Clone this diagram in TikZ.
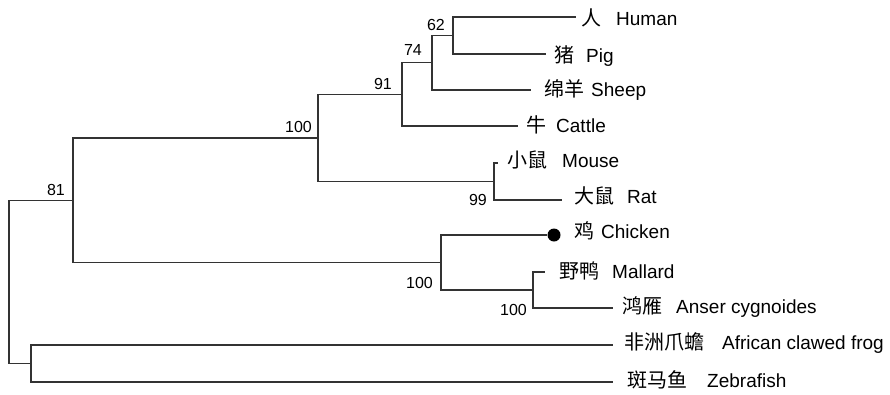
\documentclass[tikz,border=0pt]{standalone}
\usepackage{fontspec}
\setmainfont{Liberation Sans}
\newfontfamily\cjk{Noto Sans CJK SC}
\begin{document}
\begin{tikzpicture}[x=1pt,y=-1pt,
  branch/.style={draw=black!80, line width=1.2pt, line cap=rect},
  boot/.style={inner sep=0pt, anchor=base east, font=\fontsize{16}{16}\selectfont},
  zh/.style={inner sep=0pt, anchor=base west, font=\fontsize{20}{20}\selectfont\cjk},
  en/.style={inner sep=0pt, anchor=base west, font=\fontsize{19}{19}\selectfont}]
\useasboundingbox (0,0) rectangle (890,394);
% leaf ends
\coordinate (human) at (575,17);
\coordinate (pig) at (545,54);
\coordinate (sheep) at (530,90);
\coordinate (cattle) at (517,126);
\coordinate (mouse) at (497,163);
\coordinate (rat) at (561,200);
\coordinate (chicken) at (546,235);
\coordinate (mallard) at (544,272);
\coordinate (anser) at (612,308);
\coordinate (frog) at (612,345);
\coordinate (zebra) at (612,382);
% internal nodes
\coordinate (n62) at (453,35.5);
\coordinate (n74) at (432,62.75);
\coordinate (n91) at (402,94.4);
\coordinate (n99) at (494,181.5);
\coordinate (n100a) at (318,138);
\coordinate (n100c) at (533,290);
\coordinate (n100b) at (441,262.5);
\coordinate (n81) at (73,200.25);
\coordinate (nfz) at (31,363.5);
\coordinate (root) at (9,282);
% branches
\draw[branch] (human) -| (n62) |- (pig);
\draw[branch] (n62) -| (n74) |- (sheep);
\draw[branch] (n74) -| (n91) |- (cattle);
\draw[branch] (mouse) -| (n99) |- (rat);
\draw[branch] (n91) -| (n100a) |- (n99);
\draw[branch] (mallard) -| (n100c) |- (anser);
\draw[branch] (chicken) -| (n100b) |- (n100c);
\draw[branch] (n100a) -| (n81) |- (n100b);
\draw[branch] (frog) -| (nfz) |- (zebra);
\draw[branch] (n81) -| (root) |- (nfz);
% chicken marker
\fill[black] (554,235) circle (6.5);
% bootstrap values
\node[boot] (b62) at (445,30) {62};
\node[boot] (b74) at (422,55) {74};
\node[boot] (b91) at (392,89) {91};
\node[boot] (b100a) at (312,132) {100};
\node[boot] (b81) at (65,195) {81};
\node[boot] (b99) at (487,205) {99};
\node[boot] (b100b) at (433,288) {100};
\node[boot] (b100c) at (527,315) {100};
% leaf labels
\node[zh] (lhz) at (581,25) {人};  \node[en] (lhe) at (616,25) {Human};
\node[zh] (lpz) at (554,62) {猪};  \node[en] (lpe) at (586,62) {Pig};
\node[zh] (lsz) at (544,96) {绵羊}; \node[en] (lse) at (591,96) {Sheep};
\node[zh] (lcz) at (526,132) {牛}; \node[en] (lce) at (556,132) {Cattle};
\node[zh] (lmz) at (507,167) {小鼠}; \node[en] (lme) at (562,167) {Mouse};
\node[zh] (lrz) at (574,203) {大鼠}; \node[en] (lre) at (627,203) {Rat};
\node[zh] (lchz) at (574,238) {鸡}; \node[en] (lche) at (601,238) {Chicken};
\node[zh] (lmaz) at (559,278) {野鸭}; \node[en] (lmae) at (612,278) {Mallard};
\node[zh] (laz) at (622,313) {鸿雁}; \node[en] (lae) at (676,313) {Anser cygnoides};
\node[zh] (lfz) at (624,349) {非洲爪蟾}; \node[en] (lfe) at (722,349) {African clawed frog};
\node[zh] (lzz) at (627,387) {斑马鱼}; \node[en] (lze) at (707,387) {Zebrafish};
\end{tikzpicture}
\end{document}
